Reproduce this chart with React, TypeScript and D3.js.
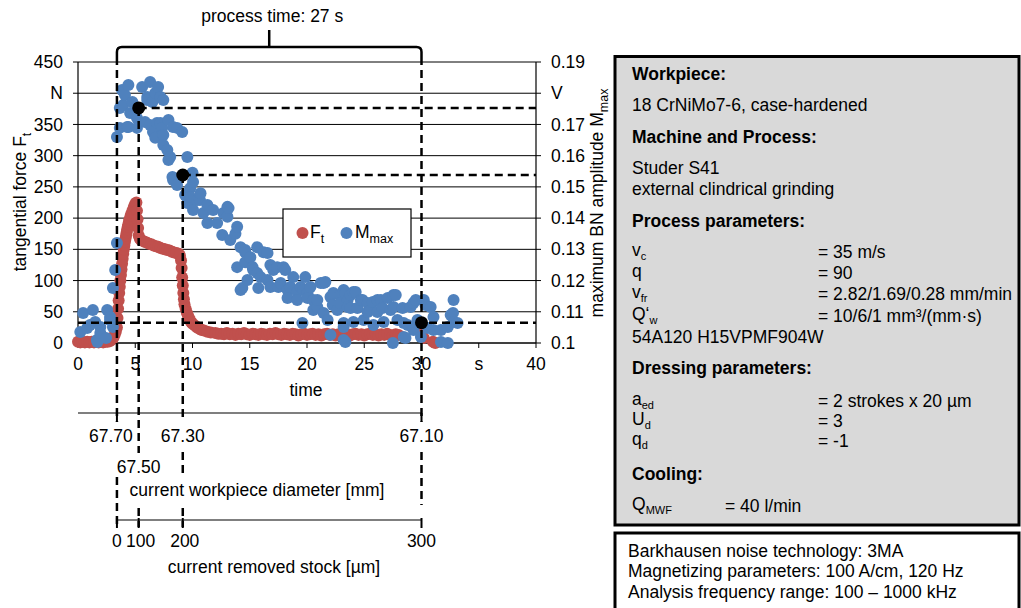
import React from "react";
import * as d3 from "d3";

const W = 1021;
const H = 608;

// axis ticks and their labels (unit symbols replace one numeric label, as on the original axis)
const timeTicks = [0, 5, 10, 15, 20, 25, 30, 35, 40];
const timeTickLabels = ["0", "5", "10", "15", "20", "25", "30", "s", "40"];
const forceTicks = [0, 50, 100, 150, 200, 250, 300, 350, 400, 450];
const forceTickLabels = ["0", "50", "100", "150", "200", "250", "300", "350", "N", "450"];
const ampTicks = [0.1, 0.11, 0.12, 0.13, 0.14, 0.15, 0.16, 0.17, 0.18, 0.19];
const ampTickLabels = ["0.1", "0.11", "0.12", "0.13", "0.14", "0.15", "0.16", "0.17", "V", "0.19"];

// tangential force F_t [N] over time [s]
const forceSamples: [number, number][] = [
  [0, 2], [0.2, 1], [0.4, 2], [0.6, 1], [0.8, 2], [1.0, 1], [1.2, 2], [1.4, 1], [1.6, 2], [1.8, 1],
  [2.0, 2], [2.2, 1], [2.4, 2], [2.6, 2], [2.8, 3], [3.0, 6], [3.1, 9], [3.2, 13], [3.3, 18],
  [3.4, 25], [3.45, 40], [3.5, 55], [3.55, 68], [3.6, 80], [3.65, 90], [3.7, 100], [3.75, 109],
  [3.8, 118], [3.85, 127], [3.9, 135], [3.95, 143], [4.0, 150], [4.05, 156], [4.1, 162], [4.15, 167],
  [4.2, 172], [4.25, 177], [4.3, 182], [4.35, 186], [4.4, 190], [4.45, 194], [4.5, 198], [4.6, 204],
  [4.7, 209], [4.8, 214], [4.9, 219], [5.0, 223], [5.1, 225], [5.15, 212], [5.2, 198], [5.25, 184],
  [5.3, 172], [5.4, 167], [5.5, 165], [5.6, 164], [5.8, 162], [6.0, 161], [6.2, 159], [6.4, 158],
  [6.6, 156], [6.8, 155], [7.0, 154], [7.2, 152], [7.4, 151], [7.6, 150], [7.8, 149], [8.0, 148],
  [8.2, 146], [8.4, 145], [8.6, 144], [8.8, 143], [8.9, 140], [9.0, 132], [9.05, 120], [9.1, 105],
  [9.15, 92], [9.2, 80], [9.25, 70], [9.3, 62], [9.4, 55], [9.5, 49], [9.6, 44], [9.7, 40],
  [9.8, 36], [9.9, 33], [10.0, 31], [10.2, 28], [10.4, 25], [10.6, 23], [10.8, 21], [11.0, 20],
  [11.3, 18], [11.6, 17], [12.0, 16], [12.25, 15],
  [12.5, 15], [12.75, 14], [13, 16], [13.25, 14], [13.5, 15], [13.75, 13], [14, 15], [14.25, 14],
  [14.5, 16], [14.75, 14], [15, 13], [15.25, 15], [15.5, 14], [15.75, 13], [16, 15], [16.25, 14],
  [16.5, 13], [16.75, 15], [17, 14], [17.25, 16], [17.5, 14], [17.75, 13], [18, 15], [18.25, 14],
  [18.5, 13], [18.75, 15], [19, 14], [19.25, 12], [19.5, 14], [19.75, 15], [20, 13], [20.25, 14],
  [20.5, 15], [20.75, 13], [21, 14], [21.25, 12], [21.5, 14], [21.75, 15], [22, 13], [22.25, 14],
  [22.5, 12], [22.75, 14], [23, 15], [23.25, 13], [23.5, 14], [23.75, 12], [24, 14], [24.25, 15],
  [24.5, 13], [24.75, 14], [25, 12], [25.25, 14], [25.5, 15], [25.75, 13], [26, 14], [26.25, 12],
  [26.5, 14], [26.75, 13], [27, 15], [27.25, 13], [27.5, 12], [27.75, 14], [28, 13],
  [30.0, 14], [30.2, 8], [31.0, 2], [31.2, 0],
];

// maximum Barkhausen noise amplitude M_max [V] over time [s]
const amplitudeSamples: [number, number][] = [
  [0.2, 0.1035], [0.45, 0.1096], [0.8, 0.1048], [1.05, 0.1058], [1.3, 0.1106], [1.5, 0.1067],
  [1.65, 0.101], [1.7, 0.1003], [1.95, 0.1051], [1.95, 0.1032], [2.45, 0.1016], [2.55, 0.1106],
  [2.8, 0.1083], [2.8, 0.1074], [3.05, 0.1051],
  [3.05, 0.1176], [3.25, 0.1234], [3.4, 0.132],
  [3.4, 0.166], [3.65, 0.1689], [3.65, 0.1753], [3.85, 0.181], [3.95, 0.1762], [4.1, 0.1794],
  [4.3, 0.1692], [4.4, 0.1826], [4.4, 0.1692], [4.55, 0.1737], [4.75, 0.1772], [5.15, 0.1721],
  [5.15, 0.1689], [5.6, 0.182], [5.85, 0.1708], [6.05, 0.1788], [6.05, 0.1778], [6.3, 0.1836],
  [6.3, 0.1698], [6.5, 0.1772], [6.55, 0.1676], [6.75, 0.1801], [6.75, 0.1657], [6.9, 0.1705],
  [7.0, 0.182], [7.2, 0.1788], [7.2, 0.1705], [7.35, 0.1689], [7.45, 0.1778], [7.45, 0.1666],
  [7.45, 0.1634], [7.8, 0.1618], [7.9, 0.1714], [7.9, 0.1586], [8.05, 0.1596], [8.25, 0.1532],
  [8.3, 0.1522], [8.3, 0.1692], [8.65, 0.1689], [8.65, 0.1506], [9.1, 0.1676], [9.35, 0.1474],
  [9.55, 0.1596], [9.55, 0.1448], [9.8, 0.1496], [9.8, 0.1468], [10.0, 0.1545], [10.05, 0.1516],
  [10.05, 0.1426], [10.4, 0.1458], [10.65, 0.1458], [10.7, 0.148], [10.95, 0.1416], [11.3, 0.1442],
  [11.3, 0.1384], [11.8, 0.1426], [12.15, 0.1384], [12.6, 0.1346], [12.7, 0.1416], [13.05, 0.1436],
  [13.05, 0.1404], [13.15, 0.1432], [13.3, 0.133], [13.75, 0.135], [13.9, 0.1372], [13.9, 0.1243],
  [14.2, 0.1307], [14.2, 0.117], [14.35, 0.1176], [14.6, 0.1291], [14.6, 0.1298], [14.6, 0.1259],
  [14.8, 0.1202], [15.05, 0.1275], [15.25, 0.1243], [15.3, 0.1234], [15.65, 0.1307], [15.65, 0.1224],
  [15.75, 0.1176], [15.95, 0.1211], [16.2, 0.1291], [16.55, 0.1288], [16.55, 0.1202], [16.8, 0.125],
  [16.8, 0.1179], [17.05, 0.1234], [17.4, 0.1243], [17.5, 0.1179], [17.7, 0.1192], [17.95, 0.1243],
  [18.1, 0.1234], [18.3, 0.117], [18.3, 0.1144], [18.55, 0.1179], [18.8, 0.1211], [19.15, 0.1163],
  [19.15, 0.1138], [19.45, 0.1179], [19.6, 0.1064], [19.7, 0.117], [19.85, 0.1211], [20.05, 0.116],
  [20.05, 0.1144], [20.3, 0.1179], [20.55, 0.1138], [20.55, 0.1106], [20.9, 0.1115], [20.9, 0.1138],
  [21.2, 0.1192], [21.45, 0.1192], [21.45, 0.1096], [21.6, 0.1195], [21.8, 0.1074], [22.05, 0.1147],
  [22.05, 0.1026], [22.25, 0.1122], [22.3, 0.116], [22.65, 0.1106], [22.9, 0.1154], [22.9, 0.1128],
  [23.2, 0.117], [23.2, 0.1064], [23.2, 0.1051], [23.2, 0.101], [23.35, 0.116], [23.35, 0.1003],
  [23.55, 0.1138], [23.55, 0.1115], [23.8, 0.1154], [23.8, 0.1112], [24.05, 0.1163], [24.05, 0.1067],
  [24.25, 0.1163], [24.4, 0.1112], [24.7, 0.1138], [24.85, 0.1138], [24.95, 0.1074], [25.3, 0.1128],
  [25.3, 0.1099], [25.55, 0.1106], [25.75, 0.1131], [25.8, 0.1058], [26.15, 0.1138], [26.15, 0.1099],
  [26.45, 0.1138], [26.6, 0.1112], [26.7, 0.1067], [27.05, 0.1144], [27.3, 0.1106], [27.5, 0.1],
  [27.55, 0.1115], [27.55, 0.1154], [27.75, 0.1154], [27.9, 0.1074], [28.35, 0.1112], [28.45, 0.1064],
  [28.45, 0.1019], [28.6, 0.1016], [28.8, 0.1058], [29.05, 0.1115], [29.3, 0.1128], [29.3, 0.1042],
  [29.5, 0.1138], [29.65, 0.1074], [29.95, 0.1019], [30.2, 0.1138], [30.35, 0.1122], [30.55, 0.1048],
  [30.8, 0.1115], [31.05, 0.1083], [31.05, 0.1042], [31.7, 0.1042], [31.7, 0.1003], [32.3, 0.1051],
  [32.3, 0.1], [32.55, 0.109], [32.75, 0.1096], [32.8, 0.1138], [32.8, 0.1067], [33.15, 0.1064],
];

// process states: start of grinding and the three highlighted M_max readings
const markerTimes = [3.4, 5.3, 9.15, 30];
const keyTimes = [5.3, 9.15, 30];
const keyAmplitudes = [0.1753, 0.1538, 0.1065];
const diameterLabels = ["67.70", "67.50", "67.30", "67.10"];
const stockLabels = ["0", "100", "200", "300"];
const processTimeLabel = "process time: 27 s";

const FONT = "'Liberation Sans', Arial, sans-serif";
const RED = "#C0504D";
const BLUE = "#4F81BD";
const DASH = "8,5";
const R = 6;

const plot = { left: 78, right: 536, top: 62, bottom: 343 };

function Sub({ base, sub, size = 12.5, dy = 5 }: { base: string; sub: string; size?: number; dy?: number }) {
  return (
    <>
      {base}
      <tspan fontSize={size} dy={dy}>{sub}</tspan>
    </>
  );
}

export default function App() {
  const x = d3.scaleLinear().domain([0, 40]).range([plot.left, plot.right]);
  const yF = d3.scaleLinear().domain([0, 450]).range([plot.bottom, plot.top]);
  const yM = d3.scaleLinear().domain([0.1, 0.19]).range([plot.bottom, plot.top]);

  const braceY = 47;
  const braceEnd = 57;
  const xs = markerTimes.map((t) => x(t));
  const braceMid = (xs[0] + xs[3]) / 2;
  const bracePath = `M${xs[0]},${braceEnd} L${xs[0]},${braceY + 5} Q${xs[0]},${braceY} ${xs[0] + 5},${braceY} L${xs[3] - 5},${braceY} Q${xs[3]},${braceY} ${xs[3]},${braceY + 5} L${xs[3]},${braceEnd}`;

  const diaAxisY = 413;
  const stockAxisY = 520;

  // vertical dashed guide segments for each marker (top is either the brace or the key point)
  const guideSegments: [number, number][][] = [
    [[braceEnd, 422], [477, 527]],
    [[yM(keyAmplitudes[0]), 453], [508, 527]],
    [[yM(keyAmplitudes[1]), 422], [452, 478], [508, 527]],
    [[braceEnd, 422], [452, 505]],
  ];

  const diaLabelPos: [number, number][] = [
    [xs[0] - 6, 442],
    [xs[1], 473],
    [xs[2], 442],
    [xs[3], 442],
  ];
  const stockLabelDx = [0, 2, 2, 0];

  const textStyle = { fontFamily: FONT, fontSize: 17.5, fill: "#000" };
  const valX = 818;

  return (
    <svg width={W} height={H} style={{ position: "absolute", left: 0, top: 0, background: "#fff" }}>
      <g style={textStyle}>
        {/* grid lines */}
        {forceTicks.map((v) => (
          <line key={"g" + v} x1={plot.left} x2={plot.right} y1={yF(v)} y2={yF(v)} stroke="#000" strokeWidth={1} />
        ))}
        {/* axes */}
        <line x1={plot.left} x2={plot.left} y1={plot.top} y2={plot.bottom} stroke="#000" strokeWidth={1.2} />
        <line x1={plot.right} x2={plot.right} y1={plot.top} y2={plot.bottom} stroke="#000" strokeWidth={1.2} />
        <line x1={plot.left} x2={plot.right} y1={plot.bottom} y2={plot.bottom} stroke="#000" strokeWidth={1.2} />
        {forceTicks.map((v, i) => (
          <g key={"lf" + v}>
            <line x1={plot.left - 5} x2={plot.left} y1={yF(v)} y2={yF(v)} stroke="#000" />
            <text x={63} y={yF(v)} dy="0.35em" textAnchor="end">{forceTickLabels[i]}</text>
          </g>
        ))}
        {ampTicks.map((v, i) => (
          <g key={"lm" + v}>
            <line x1={plot.right} x2={plot.right + 5} y1={yM(v)} y2={yM(v)} stroke="#000" />
            <text x={551} y={yM(v)} dy="0.35em" textAnchor="start">{ampTickLabels[i]}</text>
          </g>
        ))}
        {timeTicks.map((v, i) => (
          <g key={"lt" + v}>
            <line x1={x(v)} x2={x(v)} y1={plot.bottom} y2={plot.bottom + 5} stroke="#000" />
            <text x={x(v)} y={370} textAnchor="middle">{timeTickLabels[i]}</text>
          </g>
        ))}
        <text x={306} y={396} textAnchor="middle">time</text>

        {/* axis titles */}
        <text transform="translate(26,202) rotate(-90)" textAnchor="middle">
          <Sub base="tangential force F" sub="t" />
        </text>
        <text transform="translate(603,203) rotate(-90)" textAnchor="middle">
          <Sub base="maximum BN amplitude M" sub="max" />
        </text>

        {/* legend */}
        <rect x={283} y={209} width={128} height={48} fill="#fff" stroke="#000" strokeWidth={1.2} />
        <circle cx={302.5} cy={233} r={R} fill={RED} />
        <text x={310} y={238}><Sub base="F" sub="t" /></text>
        <circle cx={346.5} cy={233} r={R} fill={BLUE} />
        <text x={355} y={238}><Sub base="M" sub="max" /></text>

        {/* measurement series */}
        {forceSamples.map(([t, f], i) => (
          <circle key={"f" + i} cx={x(t)} cy={yF(f)} r={R} fill={RED} />
        ))}
        {amplitudeSamples.map(([t, m], i) => (
          <circle key={"m" + i} cx={x(t)} cy={yM(m)} r={R} fill={BLUE} />
        ))}

        {/* horizontal guides from key points to the right axis */}
        {keyTimes.map((t, i) => (
          <line
            key={"hg" + i}
            x1={i === 2 ? plot.left : x(t)}
            x2={plot.right}
            y1={yM(keyAmplitudes[i])}
            y2={yM(keyAmplitudes[i])}
            stroke="#000"
            strokeWidth={2.5}
            strokeDasharray={DASH}
          />
        ))}

        {/* vertical guides */}
        {xs.map((xv, i) =>
          guideSegments[i].map(([a, b], j) => (
            <line key={`vg${i}-${j}`} x1={xv} x2={xv} y1={a} y2={b} stroke="#000" strokeWidth={2.5} strokeDasharray={DASH} />
          ))
        )}

        {/* key points */}
        {keyTimes.map((t, i) => (
          <circle key={"k" + i} cx={x(t)} cy={yM(keyAmplitudes[i])} r={6.5} fill="#000" />
        ))}

        {/* process time brace */}
        <path d={bracePath} fill="none" stroke="#000" strokeWidth={2.5} />
        <line x1={braceMid} x2={braceMid} y1={braceY} y2={30} stroke="#000" strokeWidth={2.5} />
        <text x={braceMid + 3} y={22} textAnchor="middle">{processTimeLabel}</text>

        {/* workpiece diameter axis */}
        <line x1={plot.left} x2={xs[3]} y1={diaAxisY} y2={diaAxisY} stroke="#000" strokeWidth={1.2} />
        {[xs[0], xs[3]].map((xv, i) => (
          <line key={"dt" + i} x1={xv} x2={xv} y1={diaAxisY} y2={diaAxisY + 8} stroke="#000" strokeWidth={2} />
        ))}
        {diameterLabels.map((l, i) => (
          <text key={"dl" + i} x={diaLabelPos[i][0]} y={diaLabelPos[i][1]} textAnchor="middle">{l}</text>
        ))}
        <text x={257} y={496} textAnchor="middle">current workpiece diameter [mm]</text>

        {/* removed stock axis */}
        <line x1={xs[0]} x2={xs[3]} y1={stockAxisY} y2={stockAxisY} stroke="#000" strokeWidth={1.2} />
        {xs.map((xv, i) => (
          <line key={"st" + i} x1={xv} x2={xv} y1={stockAxisY - 2} y2={stockAxisY + 8} stroke="#000" strokeWidth={2} />
        ))}
        {stockLabels.map((l, i) => (
          <text key={"sl" + i} x={xs[i] + stockLabelDx[i]} y={547} textAnchor="middle">{l}</text>
        ))}
        <text x={274} y={573} textAnchor="middle">current removed stock [µm]</text>

        {/* process description panel */}
        <rect x={615} y={56.5} width={404} height={468.5} fill="#D9D9D9" stroke="#000" strokeWidth={3} />
        <text x={632} y={80} fontWeight="bold">Workpiece:</text>
        <text x={632} y={111}>18 CrNiMo7-6, case-hardened</text>
        <text x={632} y={143} fontWeight="bold">Machine and Process:</text>
        <text x={632} y={174}>Studer S41</text>
        <text x={632} y={195}>external clindrical grinding</text>
        <text x={632} y={227} fontWeight="bold">Process parameters:</text>
        <text x={632} y={256}><Sub base="v" sub="c" size={11} dy={4} /></text>
        <text x={valX} y={258}>= 35 m/s</text>
        <text x={632} y={277}>q</text>
        <text x={valX} y={279}>= 90</text>
        <text x={632} y={298}><Sub base="v" sub="fr" size={11} dy={4} /></text>
        <text x={valX} y={300}>= 2.82/1.69/0.28 mm/min</text>
        <text x={632} y={320}><Sub base="Q‘" sub="w" size={11} dy={4} /></text>
        <text x={valX} y={322}>= 10/6/1 mm³/(mm·s)</text>
        <text x={632} y={343}>54A120 H15VPMF904W</text>
        <text x={632} y={374} fontWeight="bold">Dressing parameters:</text>
        <text x={632} y={405}><Sub base="a" sub="ed" size={11} dy={4} /></text>
        <text x={valX} y={407}>= 2 strokes x 20 µm</text>
        <text x={632} y={425}><Sub base="U" sub="d" size={11} dy={4} /></text>
        <text x={valX} y={427}>= 3</text>
        <text x={632} y={445}><Sub base="q" sub="d" size={11} dy={4} /></text>
        <text x={valX} y={447}>= -1</text>
        <text x={632} y={480} fontWeight="bold">Cooling:</text>
        <text x={632} y={510}><Sub base="Q" sub="MWF" size={11} dy={4} /></text>
        <text x={725} y={512}>= 40 l/min</text>

        <rect x={615} y={533} width={404} height={90} fill="#fff" stroke="#000" strokeWidth={3} />
        <text x={628} y={557}>Barkhausen noise technology: 3MA</text>
        <text x={628} y={577}>Magnetizing parameters: 100 A/cm, 120 Hz</text>
        <text x={628} y={598}>Analysis frequency range: 100 – 1000 kHz</text>
      </g>
    </svg>
  );
}
